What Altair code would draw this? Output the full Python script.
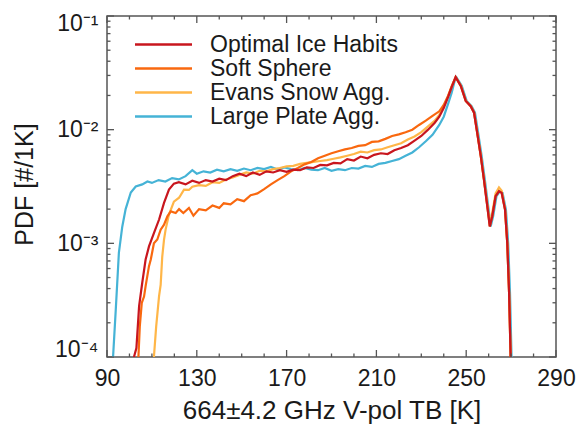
import altair as alt
import pandas as pd

FONT = "Liberation Sans"

series_names = ["Optimal Ice Habits", "Soft Sphere", "Evans Snow Agg.", "Large Plate Agg."]
series_colors = ["#c8161e", "#f9680f", "#ffb648", "#45b3d6"]
draw_order = ["Large Plate Agg.", "Evans Snow Agg.", "Soft Sphere", "Optimal Ice Habits"]

# ---- Optimal Ice Habits (red) ----
opt_tb = [102.0, 103.1, 104.3, 105.7, 107.2, 108.7, 110.9, 113.2, 115.4, 117.6, 119.8, 122, 125, 128,
          131, 134, 137, 140, 143, 146, 149, 152, 155, 158, 161, 164, 167, 170, 173, 176, 179, 182,
          185, 188, 191, 194, 197, 200, 203, 206, 209, 212, 215, 218, 221, 224, 227, 230, 233, 236,
          238, 240, 242, 243.5, 245.3,
          247.6, 249.8, 252.0, 253.5, 254.9, 256.5, 257.9, 259.4, 260.5, 261.6, 263.1, 264.6, 265.8,
          267.3, 268.3, 269.1, 269.8]
opt_pdf = [1.0e-4, 1.2e-4, 2.8e-4, 4.5e-4, 7.2e-4, 9.4e-4, 1.23e-3, 1.62e-3, 2.27e-3, 2.97e-3, 3.35e-3,
           3.45e-3, 3.3e-3, 3.55e-3, 3.4e-3, 3.6e-3, 3.5e-3, 3.7e-3, 3.6e-3, 3.9e-3, 4.1e-3, 3.9e-3,
           4.2e-3, 4.0e-3, 4.3e-3, 4.2e-3, 4.4e-3, 4.25e-3, 4.45e-3, 4.4e-3, 4.65e-3, 4.6e-3, 4.9e-3,
           4.85e-3, 5.1e-3, 5.05e-3, 5.5e-3, 5.35e-3, 5.8e-3, 5.6e-3, 6.0e-3, 6.2e-3, 6.1e-3, 6.6e-3,
           6.9e-3, 7.3e-3, 8.0e-3, 8.8e-3, 1.0e-2, 1.15e-2, 1.3e-2, 1.55e-2, 1.95e-2, 2.35e-2, 2.9e-2,
           2.43e-2, 1.79e-2, 1.61e-2, 1.41e-2, 9.4e-3, 5.85e-3, 3.64e-3, 2.12e-3, 1.41e-3, 1.73e-3,
           2.6e-3, 2.87e-3, 2.78e-3, 1.98e-3, 1.0e-3, 3.7e-4, 1.0e-4]

# ---- Soft Sphere (orange) ----
soft_tb = [104.0, 104.6, 105.5, 106.5, 107.2, 108.7, 109.5, 110.9, 112.4, 113.9, 115.4, 116.9, 118.4,
           120.6, 122.1, 124, 126.5, 128.5, 131, 134, 137, 140, 142, 145, 148, 151, 154, 157, 160, 163,
           166, 169, 172, 175, 178, 181, 184, 187, 190, 193, 196, 199, 202, 205, 208, 211, 214, 217,
           220, 223, 226, 229, 232, 235, 238, 240, 242, 243.5, 245.3,
           247.6, 249.8, 252.0, 253.5, 254.9, 256.5, 257.9, 259.4, 260.5, 261.6, 263.1, 264.6, 265.8,
           267.3, 268.3, 269.1, 269.8]
soft_pdf = [1.0e-4, 1.85e-4, 3.0e-4, 3.4e-4, 4.2e-4, 6.3e-4, 7.2e-4, 1.0e-3, 1.08e-3, 1.32e-3, 1.46e-3,
            1.73e-3, 1.91e-3, 1.85e-3, 2.0e-3, 1.85e-3, 2.05e-3, 1.75e-3, 2.0e-3, 1.95e-3, 2.15e-3,
            2.05e-3, 2.25e-3, 2.2e-3, 2.45e-3, 2.35e-3, 2.65e-3, 2.75e-3, 3.0e-3, 3.3e-3, 3.6e-3,
            3.9e-3, 4.3e-3, 4.6e-3, 4.95e-3, 5.2e-3, 5.6e-3, 5.9e-3, 6.2e-3, 6.45e-3, 6.7e-3, 6.9e-3,
            7.2e-3, 7.3e-3, 7.8e-3, 7.9e-3, 8.3e-3, 8.8e-3, 9.1e-3, 9.5e-3, 1.0e-2, 1.1e-2, 1.2e-2,
            1.32e-2, 1.45e-2, 1.65e-2, 2.0e-2, 2.4e-2, 2.9e-2,
            2.43e-2, 1.79e-2, 1.61e-2, 1.41e-2, 9.4e-3, 5.85e-3, 3.64e-3, 2.12e-3, 1.41e-3, 1.73e-3,
            2.6e-3, 2.87e-3, 2.78e-3, 1.98e-3, 1.0e-3, 3.7e-4, 1.0e-4]

# ---- Evans Snow Agg. (light orange) ----
evans_tb = [110.9, 111.9, 113.2, 113.9, 114.6, 115.4, 116.1, 117.6, 119.8, 122.1, 124.3, 126.5, 128,
            131, 134, 137, 140, 143, 146, 149, 152, 155, 158, 161, 164, 167, 170, 173, 176, 179, 182,
            185, 188, 191, 194, 197, 200, 203, 206, 209, 212, 215, 218, 221, 224, 227, 230, 233, 236,
            238, 240, 242, 243.5, 245.3,
            247.6, 249.8, 252.0, 253.5, 254.9, 256.5, 257.9, 259.4, 260.5, 261.6, 263.1, 264.6, 265.8,
            267.3, 268.3, 269.1, 269.8]
evans_pdf = [1.0e-4, 1.85e-4, 3.45e-4, 4.3e-4, 7.6e-4, 1.08e-3, 1.32e-3, 1.79e-3, 2.33e-3, 2.52e-3,
             2.97e-3, 2.95e-3, 3.15e-3, 3.25e-3, 3.2e-3, 3.45e-3, 3.4e-3, 3.65e-3, 3.8e-3, 4.0e-3,
             4.2e-3, 4.1e-3, 4.35e-3, 4.3e-3, 4.5e-3, 4.6e-3, 4.75e-3, 4.8e-3, 5.0e-3, 5.1e-3, 5.2e-3,
             5.3e-3, 5.4e-3, 5.55e-3, 5.7e-3, 5.9e-3, 6.1e-3, 6.4e-3, 6.3e-3, 6.6e-3, 6.7e-3, 7.0e-3,
             7.3e-3, 7.6e-3, 8.2e-3, 8.7e-3, 9.5e-3, 1.07e-2, 1.2e-2, 1.35e-2, 1.6e-2, 1.98e-2, 2.38e-2,
             2.9e-2,
             2.45e-2, 1.8e-2, 1.62e-2, 1.42e-2, 9.5e-3, 5.9e-3, 3.7e-3, 2.2e-3, 1.5e-3, 1.85e-3,
             2.75e-3, 3.1e-3, 2.9e-3, 2.0e-3, 1.0e-3, 3.7e-4, 1.0e-4]

# ---- Large Plate Agg. (cyan) ----
plate_tb = [92.7, 93.9, 95.3, 96.8, 98.3, 100.6, 102.8, 105.7, 108, 110, 113, 116, 119, 122, 125, 128,
            130, 133, 136, 139, 142, 145, 148, 151, 154, 157, 160, 163, 166, 169, 172, 175, 178, 181,
            184, 187, 190, 193, 196, 199, 202, 205, 208, 211, 214, 217, 220, 223, 226, 229, 232, 235,
            238, 240, 242, 243.5, 245.0, 245.7,
            248.0, 250.2, 252.4, 253.9, 255.3, 256.9, 258.3, 259.8, 260.9, 262.0, 263.5, 265.0, 266.2,
            267.7, 268.7, 269.5, 270.2]
plate_pdf = [1.0e-4, 2.6e-4, 8.3e-4, 1.4e-3, 2.0e-3, 2.8e-3, 3.16e-3, 3.3e-3, 3.5e-3, 3.4e-3, 3.6e-3,
             3.5e-3, 3.75e-3, 3.65e-3, 3.9e-3, 4.4e-3, 4.1e-3, 4.3e-3, 4.2e-3, 4.45e-3, 4.3e-3, 4.5e-3,
             4.35e-3, 4.55e-3, 4.4e-3, 4.6e-3, 4.5e-3, 4.7e-3, 4.45e-3, 4.65e-3, 4.5e-3, 4.4e-3,
             4.6e-3, 4.45e-3, 4.4e-3, 4.6e-3, 4.35e-3, 4.5e-3, 4.4e-3, 4.6e-3, 4.55e-3, 4.8e-3, 4.7e-3,
             5.0e-3, 5.1e-3, 5.3e-3, 5.5e-3, 5.9e-3, 6.3e-3, 7.0e-3, 7.9e-3, 9.0e-3, 1.1e-2, 1.3e-2,
             1.7e-2, 2.1e-2, 2.75e-2, 2.88e-2,
             2.43e-2, 1.79e-2, 1.61e-2, 1.41e-2, 9.4e-3, 5.85e-3, 3.64e-3, 2.12e-3, 1.41e-3, 1.73e-3,
             2.6e-3, 2.87e-3, 2.78e-3, 1.98e-3, 1.0e-3, 3.7e-4, 1.0e-4]

x_major = [90, 130, 170, 210, 250, 290]
x_minor = [v for v in range(100, 290, 10) if v not in x_major]
y_major = [1e-4, 1e-3, 1e-2, 1e-1]
y_major_labels = ["10⁻⁴", "10⁻³", "10⁻²", "10⁻¹"]
y_minor = [m * d for d in (1e-4, 1e-3, 1e-2) for m in range(2, 10)]

x_title = "664±4.2 GHz V-pol TB [K]"
y_title = "PDF [#/1K]"

W, H = 449, 341
MAJOR_LEN, MINOR_LEN = 7, 3.5
FRAME = "#555555"
TEXT = "#1a1a1a"

rows = []
for name, tbs, pdfs in [
    ("Optimal Ice Habits", opt_tb, opt_pdf),
    ("Soft Sphere", soft_tb, soft_pdf),
    ("Evans Snow Agg.", evans_tb, evans_pdf),
    ("Large Plate Agg.", plate_tb, plate_pdf),
]:
    for i, (t, p) in enumerate(zip(tbs, pdfs)):
        rows.append({"series": name, "tb": t, "pdf": p, "idx": i})
df = pd.DataFrame(rows)

x_scale = alt.Scale(domain=[90, 290], nice=False, zero=False)
y_scale = alt.Scale(type="log", domain=[1e-4, 1e-1], nice=False)
color_scale = alt.Scale(domain=series_names, range=series_colors)

y_label_expr = " : ".join(
    [f"abs(datum.value - {v}) < {v * 0.01} ? '{lab}'" for v, lab in zip(y_major, y_major_labels)]
) + " : ''"

main_x_axis = alt.Axis(
    values=x_major, ticks=False, tickSize=0, domain=False, grid=False,
    labelFont=FONT, labelFontSize=23, labelColor=TEXT, labelPadding=10,
    labelFlush=False, labelOverlap=False, labelBound=False,
    title=x_title, titleFont=FONT, titleFontSize=26, titleFontWeight="normal",
    titleColor=TEXT, titleBaseline="alphabetic", titleY=61,
)
main_y_axis = alt.Axis(
    values=y_major, labelExpr=y_label_expr, ticks=False, tickSize=0, domain=False, grid=False,
    labelFont=FONT, labelFontSize=23, labelColor=TEXT, labelPadding=9,
    labelFlush=True, labelFlushOffset=4, labelOverlap=False, labelBound=False,
    title=y_title, titleFont=FONT, titleFontSize=25, titleFontWeight="normal",
    titleColor=TEXT, titleX=-70, titleY=168, titleBaseline="bottom",
)

legend = alt.Legend(
    title=None, orient="none", legendX=45, legendY=17,
    symbolType="M-3,0H3", symbolSize=361, symbolStrokeWidth=2.6,
    labelFont=FONT, labelFontSize=23, labelColor=TEXT, labelOffset=35,
    rowPadding=0, padding=0, labelLimit=400,
)

X_ENC = dict(scale=x_scale, axis=main_x_axis)
Y_ENC = dict(scale=y_scale, axis=main_y_axis)

layers = []
for name in draw_order:
    layers.append(
        alt.Chart(df)
        .transform_filter(alt.datum.series == name)
        .mark_line(strokeWidth=2.2, clip=True)
        .encode(
            x=alt.X("tb:Q", **X_ENC),
            y=alt.Y("pdf:Q", **Y_ENC),
            color=alt.Color("series:N", scale=color_scale, legend=legend),
            order="idx:Q",
        )
    )

# inward-pointing tick marks on all four sides (tick marks placed by the shared scales)
xt = pd.DataFrame({"v": x_major + x_minor,
                   "len": [MAJOR_LEN] * len(x_major) + [MINOR_LEN] * len(x_minor)})
yt = pd.DataFrame({"v": y_major + y_minor,
                   "len": [MAJOR_LEN] * len(y_major) + [MINOR_LEN] * len(y_minor)})

for length in (MAJOR_LEN, MINOR_LEN):
    xsub = alt.Chart(xt).transform_filter(alt.datum.len == length)
    ysub = alt.Chart(yt).transform_filter(alt.datum.len == length)
    vt = dict(orient="vertical", size=length, thickness=1.3, color=FRAME, opacity=1)
    ht = dict(orient="horizontal", size=length, thickness=1.3, color=FRAME, opacity=1)
    layers.append(xsub.mark_tick(**vt).encode(
        x=alt.X("v:Q", **X_ENC), y=alt.value(H - length / 2)))
    layers.append(xsub.mark_tick(**vt).encode(
        x=alt.X("v:Q", **X_ENC), y=alt.value(length / 2)))
    layers.append(ysub.mark_tick(**ht).encode(
        y=alt.Y("v:Q", **Y_ENC), x=alt.value(length / 2)))
    layers.append(ysub.mark_tick(**ht).encode(
        y=alt.Y("v:Q", **Y_ENC), x=alt.value(W - length / 2)))

chart = (
    alt.layer(*layers)
    .properties(
        width=W, height=H,
        autosize=alt.AutoSizeParams(type="none"),
        padding={"left": 107, "top": 16, "right": 27, "bottom": 73},
        background="white",
    )
    .configure_view(stroke=FRAME, strokeWidth=1.5)
)

chart.save("out.html", embed_options={"renderer": "svg", "actions": False})
